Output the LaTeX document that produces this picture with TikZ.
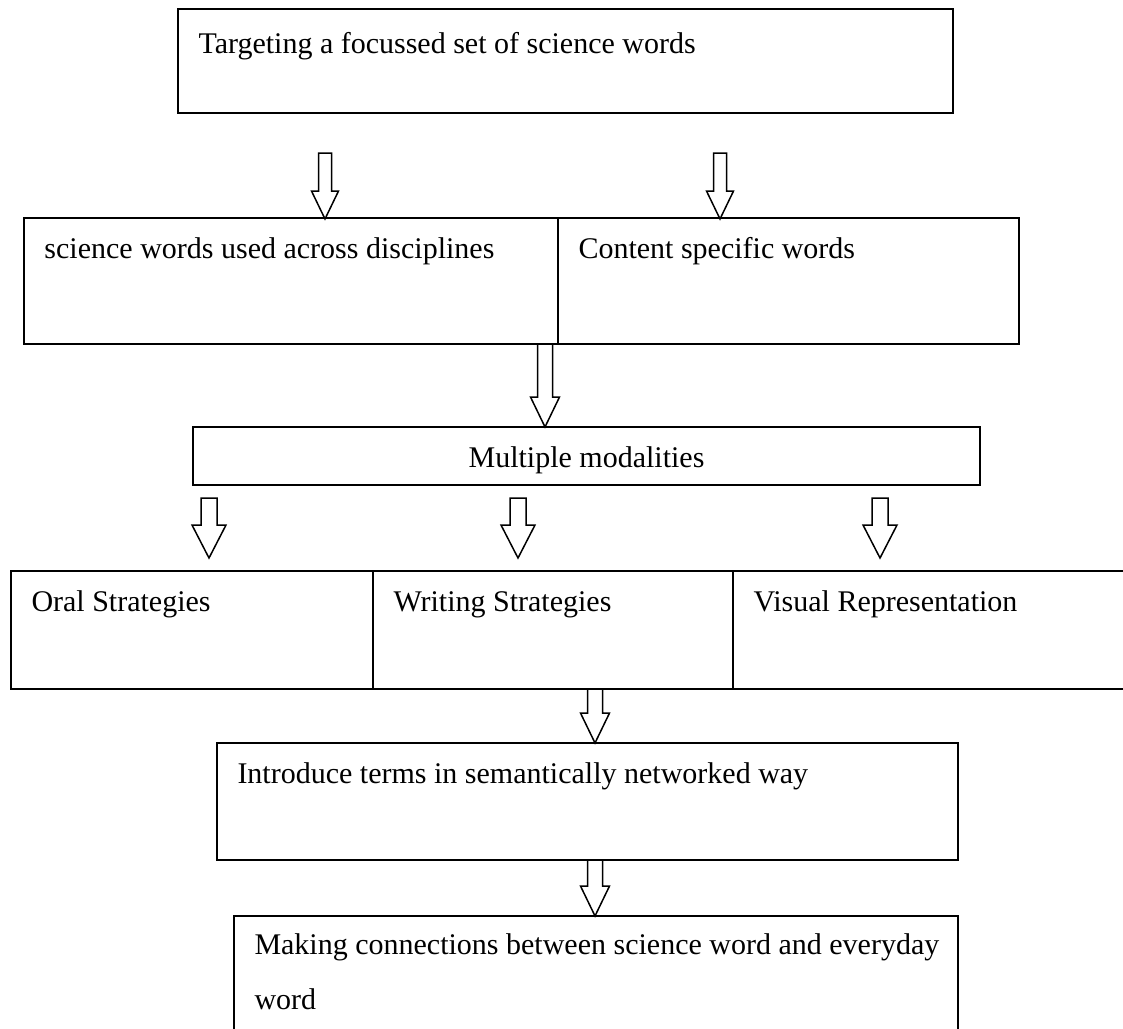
\documentclass[tikz,border=0pt]{standalone}
\usepackage{fontspec}
\setmainfont{Liberation Serif}
\usetikzlibrary{calc,fit,positioning}

\begin{document}
\begin{tikzpicture}[
    x=0.4pt,y=-0.4pt,
    bx/.style  = {rectangle,draw=black,line width=0.8pt,inner sep=0pt},
    txt/.style = {anchor=base west,inner sep=0pt,align=left,
                  font=\fontsize{12}{22}\selectfont},
    blk/.style n args = {3}{draw=black,line width=0.6pt,
        to path={($(\tikztostart)+(-#1,0)$) -- ($(\tikztotarget)+(-#1,-#3)$)
          -- ($(\tikztotarget)+(-#2,-#3)$) -- (\tikztotarget)
          -- ($(\tikztotarget)+(#2,-#3)$) -- ($(\tikztotarget)+(#1,-#3)$)
          -- ($(\tikztostart)+(#1,0)$) -- cycle}},
  ]
  \useasboundingbox (0,0) rectangle (1123,1028);

  % boxes
  \node[bx,fit={(178,9) (953,113)}]    (top) {};
  \node[bx,fit={(24,218) (558,344)}]   (gen) {};
  \node[bx,fit={(558,218) (1019,344)}] (spec) {};
  \node[bx,fit={(193,427) (980,485)}]  (mod) {};
  \node[bx,fit={(11,571) (373,689)}]   (oral) {};
  \node[bx,fit={(373,571) (733,689)}]  (writ) {};
  \node[bx,fit={(733,571) (1150,689)}] (vis) {};
  \node[bx,fit={(217,743) (958,860)}]  (intro) {};
  \node[bx,fit={(234,916) (958,1060)}] (conn) {};

  % texts
  \node[txt] (topt)   at ($(top.north west)+(21,45)$)   {Targeting a focussed set of science words};
  \node[txt] (gent)   at ($(gen.north west)+(21,41)$)   {science words used across disciplines};
  \node[txt] (spect)  at ($(spec.north west)+(21,41)$)  {Content specific words};
  \node[txt,anchor=base] (modt) at ($(mod.south)+(0,-19)$) {Multiple modalities};
  \node[txt] (oralt)  at ($(oral.north west)+(21,41)$)  {Oral Strategies};
  \node[txt] (writt)  at ($(writ.north west)+(21,41)$)  {Writing Strategies};
  \node[txt] (vist)   at ($(vis.north west)+(21,41)$)   {Visual Representation};
  \node[txt] (introt) at ($(intro.north west)+(21,41)$) {Introduce terms in semantically networked way};
  % base anchor sits on the last line
  \node[txt] (connt)  at ($(conn.north west)+(21,94)$)  {Making connections between science word and everyday\\word};

  % arrow ends
  \coordinate (a1) at (325,153);  \coordinate (b1) at (325,219);
  \coordinate (a2) at (720,153);  \coordinate (b2) at (720,219);
  \coordinate (a3) at (545,344);  \coordinate (b3) at (545,427);
  \foreach \ax [count=\i from 4] in {209,518,880} {
    \coordinate (a\i) at (\ax,498);  \coordinate (b\i) at (\ax,558);
  }
  \coordinate (a7) at (595,689);  \coordinate (b7) at (595,743);
  \coordinate (a8) at (595,860);  \coordinate (b8) at (595,916);

  % arrows
  \foreach \i in {1,2} \draw[blk={6.5}{13.5}{28}] (a\i) to (b\i);
  \draw[blk={7.5}{14.5}{30}] (a3) to (b3);
  \foreach \i in {4,5,6} \draw[blk={8}{17}{33}] (a\i) to (b\i);
  \foreach \i in {7,8} \draw[blk={7.5}{14.5}{30}] (a\i) to (b\i);

\end{tikzpicture}
\end{document}
